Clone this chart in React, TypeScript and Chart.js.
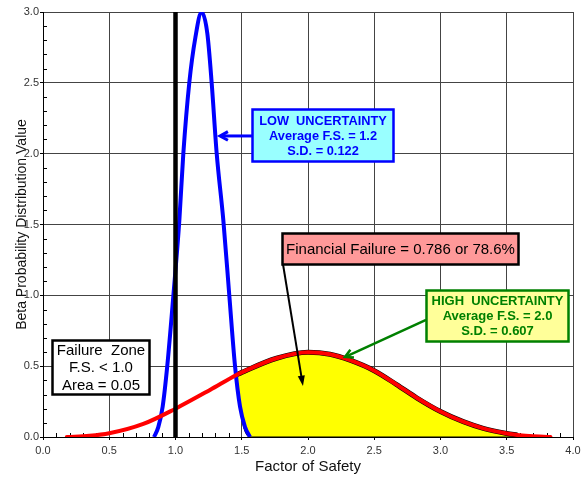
import React, { useEffect, useRef } from 'react';
import { Chart, registerables } from 'chart.js';

Chart.register(...registerables);

// ---- Data ----
// Low uncertainty beta curve (blue)
const lowX = [0.838, 0.87, 0.903, 0.938, 0.984, 1.029, 1.059, 1.104, 1.15, 1.197, 1.24, 1.273, 1.311, 1.361, 1.406, 1.449, 1.487, 1.525, 1.562];
const lowY = [0, 0.07, 0.214, 0.503, 1.0, 1.53, 2.0, 2.5, 2.82, 3.0, 2.85, 2.5, 2.0, 1.53, 1.0, 0.503, 0.214, 0.07, 0];

// High uncertainty beta curve (red)
const highX = [0.18, 0.35, 0.5, 0.757, 1.0, 1.26, 1.46, 1.5, 1.763, 2.0, 2.166, 2.317, 2.5, 2.669, 2.82, 3.0, 3.172, 3.323, 3.5, 3.58, 3.675, 3.83];
const highY = [0, 0.008, 0.026, 0.092, 0.2, 0.332, 0.438, 0.456, 0.556, 0.598, 0.584, 0.542, 0.468, 0.37, 0.277, 0.18, 0.108, 0.061, 0.025, 0.014, 0.007, 0];

// Financial failure region (yellow): upper edge follows red curve
const failX = [1.46, 1.5, 1.763, 2.0, 2.166, 2.317, 2.5, 2.669, 2.82, 3.0, 3.172, 3.323, 3.5, 3.58];
const failY = [0.438, 0.456, 0.556, 0.598, 0.584, 0.542, 0.468, 0.37, 0.277, 0.18, 0.108, 0.061, 0.025, 0.014];
// lower/left edge of the region: follows the blue curve then the axis
const edgeX = [1.46, 1.485, 1.507, 1.53, 1.562, 3.58];
const edgeY = [0.438, 0.25, 0.097, 0.03, 0, 0];

// Failure line at F.S. = 1.0
const limitX = [1.0, 1.0];
const limitY = [0, 3.0];

// Axes
const xMin = 0, xMax = 4, xStep = 0.5;
const yMin = 0, yMax = 3, yStep = 0.5;
const minorStep = 0.1;

// Annotation texts
const lowText = ['LOW  UNCERTAINTY', 'Average F.S. = 1.2', 'S.D. = 0.122'];
const highText = ['HIGH  UNCERTAINTY', 'Average F.S. = 2.0', 'S.D. = 0.607'];
const finText = ['Financial Failure = 0.786 or 78.6%'];
const zoneText = ['Failure  Zone', 'F.S. < 1.0', 'Area = 0.05'];

const FONT = '"Liberation Sans", Arial, Helvetica, sans-serif';

const toPts = (xs: number[], ys: number[]) => xs.map((x, i) => ({ x, y: ys[i] }));

type Box = { lines: string[]; x0: number; x1: number; y0: number; y1: number; fill: string; stroke: string; color: string; font: string; lineH: number };
type Arrow = { from: [number, number]; to: [number, number]; color: string; width: number; head: 'open' | 'filled' };

const boxes: Box[] = [
  { lines: lowText, x0: 1.577, x1: 2.642, y0: 2.315, y1: 1.948, fill: '#99FFFF', stroke: '#0000FF', color: '#0000FF', font: `bold 12.8px ${FONT}`, lineH: 15 },
  { lines: finText, x0: 1.804, x1: 3.585, y0: 1.44, y1: 1.221, fill: '#FF9999', stroke: '#000000', color: '#000000', font: `15px ${FONT}`, lineH: 15 },
  { lines: highText, x0: 2.891, x1: 3.962, y0: 1.038, y1: 0.678, fill: '#FFFF99', stroke: '#008000', color: '#008000', font: `bold 13px ${FONT}`, lineH: 15 },
  { lines: zoneText, x0: 0.068, x1: 0.8, y0: 0.685, y1: 0.304, fill: '#FFFFFF', stroke: '#000000', color: '#000000', font: `15px ${FONT}`, lineH: 17.5 },
];

const arrows: Arrow[] = [
  { from: [1.577, 2.125], to: [1.336, 2.125], color: '#0000FF', width: 3, head: 'open' },
  { from: [1.811, 1.221], to: [1.962, 0.36], color: '#000000', width: 2, head: 'filled' },
  { from: [2.891, 0.826], to: [2.279, 0.565], color: '#008000', width: 2.5, head: 'open' },
];

const minorTicksPlugin = {
  id: 'minorTicks',
  beforeDatasetsDraw(chart: any) {
    const { ctx, chartArea, scales } = chart;
    ctx.save();
    ctx.strokeStyle = '#000';
    ctx.lineWidth = 1;
    ctx.beginPath();
    const nx = Math.round((xMax - xMin) / minorStep);
    for (let i = 1; i < nx; i++) {
      if (i % 5 === 0) continue;
      const px = Math.round(scales.x.getPixelForValue(xMin + i * minorStep)) + 0.5;
      ctx.moveTo(px, chartArea.bottom);
      ctx.lineTo(px, chartArea.bottom - 4);
    }
    const ny = Math.round((yMax - yMin) / minorStep);
    for (let i = 1; i < ny; i++) {
      if (i % 5 === 0) continue;
      const py = Math.round(scales.y.getPixelForValue(yMin + i * minorStep)) + 0.5;
      ctx.moveTo(chartArea.left, py);
      ctx.lineTo(chartArea.left + 4, py);
    }
    ctx.stroke();
    ctx.restore();
  },
};

const annotationPlugin = {
  id: 'annotations',
  afterDatasetsDraw(chart: any) {
    const { ctx, scales } = chart;
    const X = (v: number) => scales.x.getPixelForValue(v);
    const Y = (v: number) => scales.y.getPixelForValue(v);
    ctx.save();
    // arrows
    for (const a of arrows) {
      const x0 = X(a.from[0]), y0 = Y(a.from[1]);
      const x1 = X(a.to[0]), y1 = Y(a.to[1]);
      const ang = Math.atan2(y1 - y0, x1 - x0);
      ctx.strokeStyle = a.color;
      ctx.fillStyle = a.color;
      ctx.lineWidth = a.width;
      ctx.lineCap = 'butt';
      ctx.beginPath();
      ctx.moveTo(x0, y0);
      ctx.lineTo(x1 - Math.cos(ang) * (a.head === 'filled' ? 6 : 1), y1 - Math.sin(ang) * (a.head === 'filled' ? 6 : 1));
      ctx.stroke();
      const L = a.head === 'filled' ? 11 : 9;
      const W = a.head === 'filled' ? 0.33 : 0.5;
      const ax = x1 - L * Math.cos(ang - W), ay = y1 - L * Math.sin(ang - W);
      const bx = x1 - L * Math.cos(ang + W), by = y1 - L * Math.sin(ang + W);
      ctx.beginPath();
      if (a.head === 'filled') {
        ctx.moveTo(x1, y1);
        ctx.lineTo(ax, ay);
        ctx.lineTo(bx, by);
        ctx.closePath();
        ctx.fill();
      } else {
        ctx.lineJoin = 'miter';
        ctx.moveTo(ax, ay);
        ctx.lineTo(x1, y1);
        ctx.lineTo(bx, by);
        ctx.stroke();
      }
    }
    // boxes
    for (const b of boxes) {
      const l = Math.round(X(b.x0)) + 0.5, r = Math.round(X(b.x1)) + 0.5;
      const t = Math.round(Y(b.y0)) + 0.5, bt = Math.round(Y(b.y1)) + 0.5;
      ctx.fillStyle = b.fill;
      ctx.fillRect(l, t, r - l, bt - t);
      ctx.strokeStyle = b.stroke;
      ctx.lineWidth = 2.5;
      ctx.lineJoin = 'miter';
      ctx.strokeRect(l, t, r - l, bt - t);
      ctx.fillStyle = b.color;
      ctx.font = b.font;
      ctx.textAlign = 'center';
      ctx.textBaseline = 'middle';
      const cx = (l + r) / 2, cy = (t + bt) / 2;
      const n = b.lines.length;
      b.lines.forEach((s, i) => {
        ctx.fillText(s, cx, cy + (i - (n - 1) / 2) * b.lineH + 0.5);
      });
    }
    ctx.restore();
  },
};

export default function App() {
  const ref = useRef<HTMLCanvasElement>(null);
  useEffect(() => {
    if (!ref.current) return;
    Chart.defaults.font.family = FONT;
    const chart = new Chart(ref.current, {
      type: 'line',
      data: {
        datasets: [
          { data: toPts(limitX, limitY), borderColor: '#000000', borderWidth: 4.5, pointRadius: 0, tension: 0, fill: false, borderCapStyle: 'butt' },
          { data: toPts(highX, highY), borderColor: '#FF0000', borderWidth: 4, pointRadius: 0, cubicInterpolationMode: 'monotone', fill: false, borderCapStyle: 'round' },
          { data: toPts(lowX, lowY), borderColor: '#0000FF', borderWidth: 4, pointRadius: 0, cubicInterpolationMode: 'monotone', fill: false },
          { data: toPts(edgeX, edgeY), borderColor: '#000000', borderWidth: 1.2, pointRadius: 0, cubicInterpolationMode: 'monotone', fill: false },
          { data: toPts(failX, failY), borderColor: '#000000', borderWidth: 5, pointRadius: 0, cubicInterpolationMode: 'monotone', fill: { target: 3 }, backgroundColor: '#FFFF00' },
        ] as any,
      },
      options: {
        responsive: false,
        animation: false,
        events: [],
        layout: { padding: { top: 12, right: 13, left: 0, bottom: 0 } },
        plugins: { legend: { display: false }, tooltip: { enabled: false } },
        scales: {
          x: {
            type: 'linear',
            min: xMin,
            max: xMax,
            ticks: { stepSize: xStep, callback: (v: any) => Number(v).toFixed(1), font: { size: 11 }, color: '#333', padding: 4, maxRotation: 0, autoSkip: false },
            grid: { color: '#444', tickLength: 3, tickColor: '#000' },
            border: { color: '#000', width: 1 },
            title: { display: true, text: 'Factor of Safety', font: { size: 15 }, color: '#111', padding: { top: 0, bottom: 5.2 } },
            afterFit: (s: any) => { s.height = 44; },
          },
          y: {
            type: 'linear',
            min: yMin,
            max: yMax,
            ticks: { stepSize: yStep, callback: (v: any) => Number(v).toFixed(1), font: { size: 11 }, color: '#333', padding: 1 },
            grid: { color: '#444', tickLength: 3, tickColor: '#000' },
            border: { color: '#000', width: 1 },
            title: { display: true, text: 'Beta Probability Distribution Value', font: { size: 14 }, color: '#111', padding: { top: 13.6, bottom: 0 } },
            afterFit: (s: any) => { s.width = 43; },
          },
        },
      } as any,
      plugins: [minorTicksPlugin, annotationPlugin],
    });
    return () => chart.destroy();
  }, []);
  return (
    <div style={{ position: 'absolute', left: 0, top: 0, width: 586, height: 481 }}>
      <canvas ref={ref} width={586} height={481} style={{ display: 'block' }} />
    </div>
  );
}
